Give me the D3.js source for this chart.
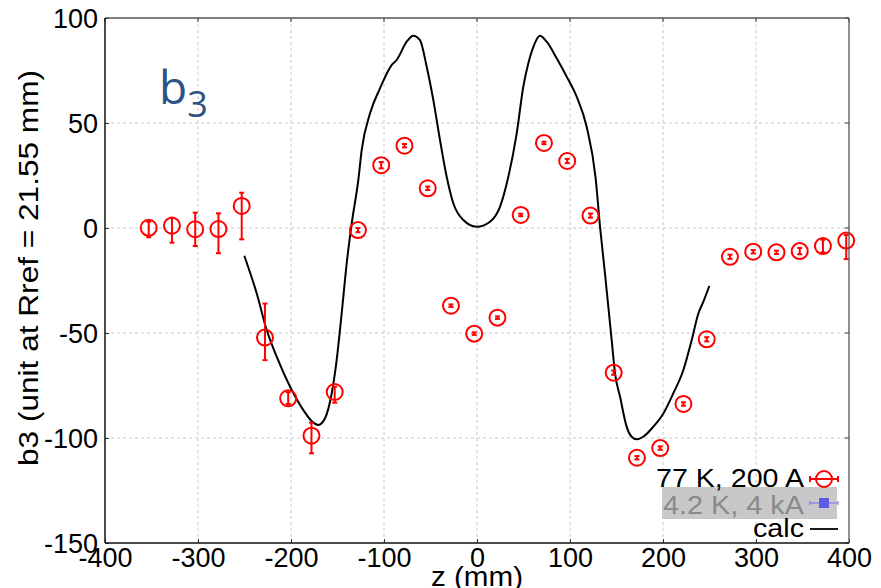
<!DOCTYPE html>
<html>
<head>
<meta charset="utf-8">
<script src="https://cdn.jsdelivr.net/npm/d3@7"></script>
<style>
  html, body { margin: 0; padding: 0; background: #fff; }
  svg { display: block; }
</style>
</head>
<body>
<svg id="chart" width="881" height="588"></svg>
<script>
// ---- data ----
const xTicks = [-400, -300, -200, -100, 0, 100, 200, 300, 400];
const yTicks = [-150, -100, -50, 0, 50, 100];

// measured points (77 K, 200 A)
const measZ = [-353, -328, -303, -278, -253, -228, -203, -178, -153, -128, -103, -78, -53, -28, -3,
               22, 47, 72, 97, 122, 147, 172, 197, 222, 247, 272, 297, 322, 347, 372, 397];
const measB3 = [0.1, 1.1, -0.6, -0.5, 10.5, -52.2, -81.1, -98.9, -78.1, -1, 29.9, 39.2, 18.9, -37, -50.3,
                -42.7, 6.2, 40.5, 31.9, 5.9, -68.9, -109.4, -104.8, -83.8, -53, -13.7, -11.3, -11.6, -11, -8.6, -6];
const errPlus = [2.9, 3.8, 7.9, 7.5, 6.3, 16.2, 2.9, 6.2, 2.5, 1, 1.5, 0.8, 0.8, 0.6, 0.6,
                 0.6, 0.6, 0.6, 1, 1, 1, 0.8, 0.8, 0.8, 1, 1, 0.8, 0.8, 1.5, 3, 2.7];
const errMinus = [4.5, 8.1, 8.0, 11.5, 15.9, 10.7, 2.7, 8.4, 5.1, 1, 1.5, 0.8, 0.8, 0.6, 0.6,
                  0.6, 0.6, 0.6, 1, 1, 1, 0.8, 0.8, 0.8, 1, 1, 0.8, 0.8, 1.5, 3, 8.8];

// calculation curve
const calcZ = [-250.2, -236.9, -226.1, -215.4, -201, -186.7, -176, -170.6, -163.4, -156.2, -150.9, -145.5,
               -140.1, -134.7, -127.6, -124, -115, -104.3, -91.8, -86.4, -75.6, -68.5, -61.3, -54.1, -47,
               -39.8, -32.6, -25.5, -14.7, -0.4, 14, 24.7, 33.7, 42.7, 49.8, 55.2, 60.6, 67.7, 74.9, 85.7,
               96.4, 107.2, 117.9, 127.5, 132.3, 137.6, 141.2, 144.8, 148.4, 153.8, 160.9, 166.3, 171.7,
               178.8, 189.6, 200.4, 211.1, 221.9, 230.9, 238.1, 243.4, 249.8];
const calcB3 = [-13.2, -31.1, -48.6, -61.3, -75.6, -86.7, -92.7, -93.8, -90.6, -78.7, -62.9, -40.6,
                -16.8, 2.2, 22.9, 37.1, 54.6, 66.5, 77.6, 80, 88.7, 91.6, 89.5, 76.8, 61,
                41.9, 24.4, 11.8, 3.8, 0.6, 3, 10.1, 24.4, 45.1, 67.3, 78.4, 86.3, 91.6, 88.7, 80.8,
                72.1, 62.5, 48.2, 24, 0.6, -21.6, -37.5, -53.3, -69.2, -80.3, -94.6, -99.4, -100.6,
                -99.4, -94.6, -88.3, -78.7, -67.6, -53.3, -40.6, -35.1, -27.6];

const legendLabels = ["77 K, 200 A", "4.2 K, 4 kA", "calc"];

// ---- chart ----
const svg = d3.select("#chart");
const x = d3.scaleLinear().domain([-400, 400]).range([105, 849]);
const y = d3.scaleLinear().domain([-150, 100]).range([543, 18]);
const FONT = "'Liberation Sans', Arial, Helvetica, sans-serif";

// grid
const grid = svg.append("g");
grid.selectAll("line.gx").data(xTicks.slice(1, -1)).join("line")
  .attr("x1", d => x(d)).attr("x2", d => x(d))
  .attr("y1", y(-150)).attr("y2", y(100))
  .attr("stroke", "#c8c8c8").attr("stroke-width", 1).attr("stroke-dasharray", "3,3");
grid.selectAll("line.gy").data(yTicks.slice(1, -1)).join("line")
  .attr("x1", x(-400)).attr("x2", x(400))
  .attr("y1", d => y(d)).attr("y2", d => y(d))
  .attr("stroke", "#c8c8c8").attr("stroke-width", 1).attr("stroke-dasharray", "3,3");

// calc curve
const calcData = calcZ.map((z, i) => [z, calcB3[i]]);
svg.append("path")
  .datum(calcData)
  .attr("fill", "none")
  .attr("stroke", "#000")
  .attr("stroke-width", 2)
  .attr("stroke-linejoin", "round")
  .attr("d", d3.line().x(d => x(d[0])).y(d => y(d[1])).curve(d3.curveMonotoneX));

// measurements
const meas = measZ.map((z, i) => ({ z, v: measB3[i], hi: measB3[i] + errPlus[i], lo: measB3[i] - errMinus[i] }));
const red = "#ff0000";
const eb = svg.append("g").attr("stroke", red).attr("stroke-width", 2);
eb.selectAll("line.v").data(meas).join("line")
  .attr("x1", d => x(d.z)).attr("x2", d => x(d.z))
  .attr("y1", d => y(d.hi)).attr("y2", d => y(d.lo));
eb.selectAll("line.t").data(meas).join("line")
  .attr("x1", d => x(d.z) - 2.5).attr("x2", d => x(d.z) + 2.5)
  .attr("y1", d => y(d.hi)).attr("y2", d => y(d.hi));
eb.selectAll("line.b").data(meas).join("line")
  .attr("x1", d => x(d.z) - 2.5).attr("x2", d => x(d.z) + 2.5)
  .attr("y1", d => y(d.lo)).attr("y2", d => y(d.lo));
svg.append("g").selectAll("circle").data(meas).join("circle")
  .attr("cx", d => x(d.z)).attr("cy", d => y(d.v)).attr("r", 8)
  .attr("fill", "none").attr("stroke", red).attr("stroke-width", 2);

// axes
const fmt = d => String(d);
const xAxis = svg.append("g").attr("transform", `translate(0,${y(-150)})`)
  .call(d3.axisBottom(x).tickValues(xTicks).tickSize(-4).tickPadding(5).tickFormat(fmt));
const yAxis = svg.append("g").attr("transform", `translate(${x(-400)},0)`)
  .call(d3.axisLeft(y).tickValues(yTicks).tickSize(-4).tickPadding(7).tickFormat(fmt));
[xAxis, yAxis].forEach(g => {
  g.select(".domain").remove();
  g.selectAll(".tick line").attr("stroke", "#333");
  g.selectAll(".tick text").attr("font-family", FONT).attr("font-size", 27).attr("fill", "#000");
});
yAxis.selectAll(".tick text").attr("dy", "0.35em");

// top/right ticks
svg.append("g").selectAll("line").data(xTicks).join("line")
  .attr("x1", d => x(d)).attr("x2", d => x(d)).attr("y1", y(100)).attr("y2", y(100) + 4)
  .attr("stroke", "#333");
svg.append("g").selectAll("line").data(yTicks).join("line")
  .attr("x1", x(400)).attr("x2", x(400) - 4).attr("y1", d => y(d)).attr("y2", d => y(d))
  .attr("stroke", "#333");

// frame
svg.append("line").attr("x1", x(-400)).attr("x2", x(400)).attr("y1", y(100)).attr("y2", y(100))
  .attr("stroke", "#555").attr("stroke-width", 1.3);
svg.append("line").attr("x1", x(400)).attr("x2", x(400)).attr("y1", y(100)).attr("y2", y(-150))
  .attr("stroke", "#555").attr("stroke-width", 1.3);
svg.append("line").attr("x1", x(-400)).attr("x2", x(-400)).attr("y1", y(100)).attr("y2", y(-150))
  .attr("stroke", "#111").attr("stroke-width", 1.5);
svg.append("line").attr("x1", x(-400)).attr("x2", x(400)).attr("y1", y(-150)).attr("y2", y(-150))
  .attr("stroke", "#111").attr("stroke-width", 1.5);

// axis titles
svg.append("text")
  .attr("x", 477).attr("y", 586)
  .attr("text-anchor", "middle")
  .attr("font-family", FONT).attr("font-size", 27)
  .attr("textLength", 92).attr("lengthAdjust", "spacingAndGlyphs")
  .text("z (mm)");
svg.append("text")
  .attr("transform", "translate(38,268) rotate(-90)")
  .attr("text-anchor", "middle")
  .attr("font-family", FONT).attr("font-size", 27)
  .attr("textLength", 396).attr("lengthAdjust", "spacingAndGlyphs")
  .text("b3 (unit at Rref = 21.55 mm)");

// b3 annotation
const ann = svg.append("text")
  .attr("x", 159).attr("y", 104)
  .attr("font-family", "'Open Sans', 'Noto Sans', sans-serif")
  .attr("font-size", 46).attr("fill", "#2b5283");
ann.append("tspan").text("b");
ann.append("tspan").attr("font-size", 36).attr("dy", 13).text("3");

// legend
const lg = svg.append("g");
lg.append("rect").attr("x", 662).attr("y", 487).attr("width", 175).attr("height", 32).attr("fill", "#c8c8c8");
const legY = [487, 514, 537];
const legW = [148, 141, 51];
const legCol = ["#000", "#8a8a8a", "#000"];
lg.selectAll("text").data(legendLabels).join("text")
  .attr("x", 804).attr("y", (d, i) => legY[i])
  .attr("text-anchor", "end")
  .attr("font-family", FONT).attr("font-size", 25)
  .attr("fill", (d, i) => legCol[i])
  .attr("textLength", (d, i) => legW[i]).attr("lengthAdjust", "spacingAndGlyphs")
  .text(d => d);
// red marker
lg.append("line").attr("x1", 810).attr("x2", 838).attr("y1", 479).attr("y2", 479).attr("stroke", red).attr("stroke-width", 2);
lg.append("line").attr("x1", 810).attr("x2", 810).attr("y1", 476).attr("y2", 482).attr("stroke", red).attr("stroke-width", 2);
lg.append("line").attr("x1", 838).attr("x2", 838).attr("y1", 476).attr("y2", 482).attr("stroke", red).attr("stroke-width", 2);
lg.append("circle").attr("cx", 824).attr("cy", 479).attr("r", 8).attr("fill", "none").attr("stroke", red).attr("stroke-width", 2);
// blue marker
const blue = "#5b5be3";
lg.append("line").attr("x1", 810).attr("x2", 838).attr("y1", 503).attr("y2", 503).attr("stroke", "#8080e8").attr("stroke-width", 1.2);
lg.append("line").attr("x1", 810).attr("x2", 810).attr("y1", 501).attr("y2", 505).attr("stroke", "#8080e8").attr("stroke-width", 1.2);
lg.append("line").attr("x1", 838).attr("x2", 838).attr("y1", 501).attr("y2", 505).attr("stroke", "#8080e8").attr("stroke-width", 1.2);
lg.append("rect").attr("x", 819).attr("y", 498).attr("width", 10).attr("height", 10).attr("fill", blue);
// calc
lg.append("line").attr("x1", 810).attr("x2", 838).attr("y1", 529).attr("y2", 529).attr("stroke", "#000").attr("stroke-width", 1.8);
</script>
</body>
</html>
